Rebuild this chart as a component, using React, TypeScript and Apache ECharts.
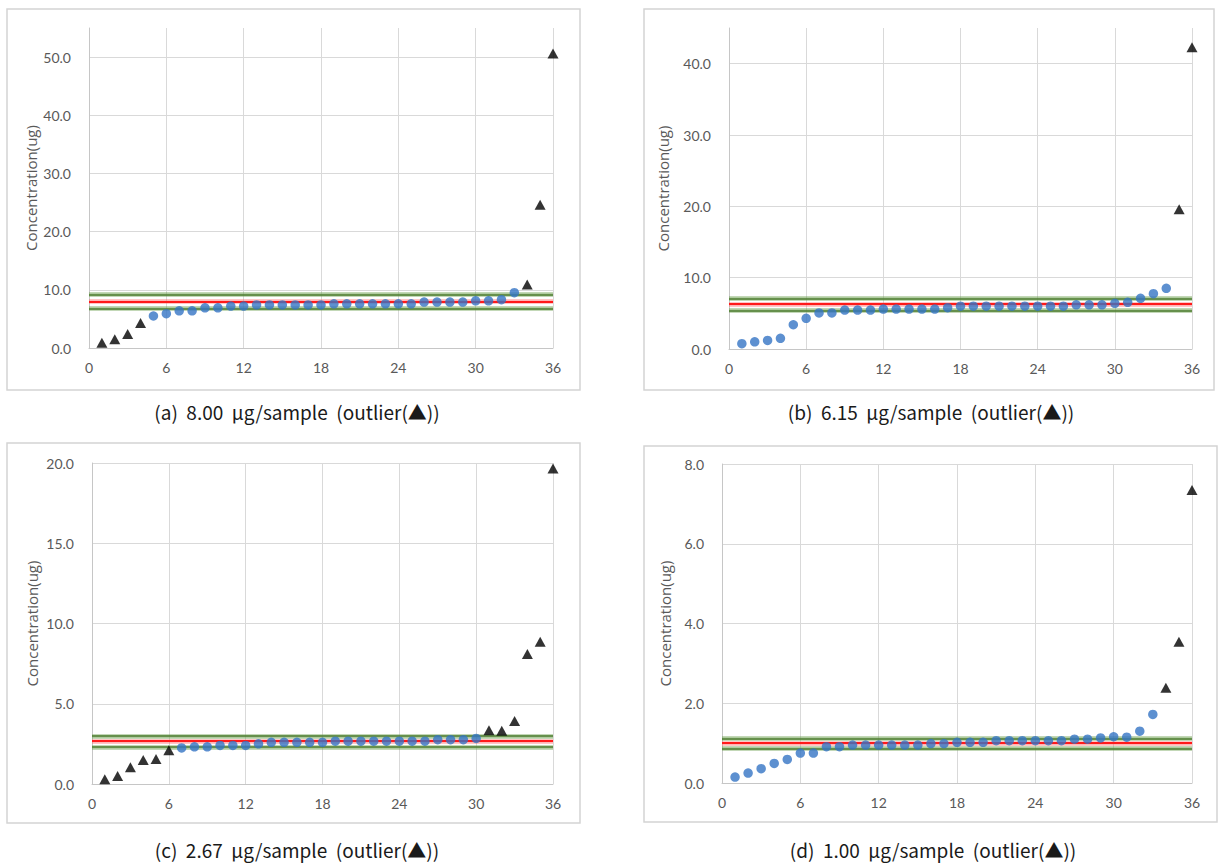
import React, { useEffect, useRef } from "react";
import * as echarts from "echarts";

// ---------- data ----------
const sampleNo = [1, 2, 3, 4, 5, 6, 7, 8, 9, 10, 11, 12, 13, 14, 15, 16, 17, 18, 19, 20, 21, 22, 23, 24, 25, 26, 27, 28, 29, 30, 31, 32, 33, 34, 35, 36];

const valuesA = [0.9, 1.5, 2.4, 4.3, 5.5, 5.9, 6.4, 6.4, 6.9, 6.9, 7.2, 7.2, 7.4, 7.4, 7.4, 7.4, 7.4, 7.4, 7.6, 7.6, 7.6, 7.6, 7.6, 7.6, 7.6, 7.9, 7.9, 7.9, 7.9, 8.1, 8.1, 8.3, 9.5, 10.9, 24.6, 50.6];
const valuesB = [0.75, 1.0, 1.2, 1.5, 3.4, 4.3, 5.05, 5.05, 5.45, 5.45, 5.45, 5.6, 5.6, 5.6, 5.6, 5.6, 5.8, 6.0, 6.0, 6.0, 6.0, 6.0, 6.0, 6.0, 6.0, 6.0, 6.2, 6.2, 6.2, 6.4, 6.55, 7.1, 7.75, 8.5, 19.6, 42.3];
const valuesC = [0.3, 0.5, 1.05, 1.5, 1.55, 2.1, 2.25, 2.32, 2.32, 2.4, 2.4, 2.4, 2.5, 2.6, 2.6, 2.6, 2.6, 2.6, 2.67, 2.67, 2.67, 2.67, 2.67, 2.67, 2.67, 2.67, 2.76, 2.76, 2.76, 2.84, 3.35, 3.32, 3.92, 8.1, 8.87, 19.65];
const valuesD = [0.15, 0.25, 0.36, 0.49, 0.59, 0.75, 0.75, 0.91, 0.91, 0.95, 0.95, 0.95, 0.95, 0.95, 0.95, 0.99, 0.99, 1.02, 1.02, 1.02, 1.06, 1.06, 1.06, 1.06, 1.06, 1.06, 1.1, 1.1, 1.13, 1.16, 1.15, 1.3, 1.72, 2.39, 3.54, 7.35];

const outliersA = [1, 2, 3, 4, 34, 35, 36];
const outliersB = [35, 36];
const outliersC = [1, 2, 3, 4, 5, 6, 31, 32, 33, 34, 35, 36];
const outliersD = [34, 35, 36];

// reference levels: [lower, centre, upper]
const refA = [6.8, 8.0, 9.2];
const refB = [5.4, 6.3, 7.1];
const refC = [2.3, 2.67, 3.0];
const refD = [0.87, 1.0, 1.12];

const yMaxes = [55, 45, 20, 8];
const yIntervals = [10, 10, 5, 2];
const xMax = 36;
const xInterval = 6;

const captions = [
  "(a)  8.00  μg/sample  (outlier(▲))",
  "(b)  6.15  μg/sample  (outlier(▲))",
  "(c)  2.67  μg/sample  (outlier(▲))",
  "(d)  1.00  μg/sample  (outlier(▲))",
];
const yAxisName = "Concentration(ug)";

const panelsData = [
  { values: valuesA, outliers: outliersA, refs: refA },
  { values: valuesB, outliers: outliersB, refs: refB },
  { values: valuesC, outliers: outliersC, refs: refC },
  { values: valuesD, outliers: outliersD, refs: refD },
];

// ---------- layout ----------
const layouts = [
  { grid: { left: 89, top: 28, width: 464, height: 320 }, frame: { x: 7, y: 9, w: 573, h: 381 }, cap: { x: 297, y: 411 }, nameGap: 51 },
  { grid: { left: 729, top: 28, width: 463, height: 321 }, frame: { x: 644, y: 9, w: 570, h: 381 }, cap: { x: 931, y: 411 }, nameGap: 59 },
  { grid: { left: 92, top: 463, width: 461, height: 321 }, frame: { x: 7, y: 443, w: 573, h: 380 }, cap: { x: 297, y: 849 }, nameGap: 53 },
  { grid: { left: 722, top: 464, width: 470, height: 319 }, frame: { x: 644, y: 446, w: 573, h: 376 }, cap: { x: 933, y: 849 }, nameGap: 50 },
];

const BLUE = "#3574c4";
const GRID = "#d9d9d9";
const AXIS = "#c6c6c6";
const LABEL = "#595959";

export default function App() {
  const ref = useRef<HTMLDivElement>(null);

  useEffect(() => {
    if (!ref.current) return;
    const chart = echarts.init(ref.current, undefined, { renderer: "svg" });

    const grids: any[] = [];
    const xAxes: any[] = [];
    const yAxes: any[] = [];
    const series: any[] = [];
    const graphics: any[] = [];

    panelsData.forEach((p, i) => {
      const L = layouts[i];
      const yMax = yMaxes[i];
      const yInt = yIntervals[i];
      const maxIsTick = Math.abs(yMax / yInt - Math.round(yMax / yInt)) < 1e-9;

      grids.push({ ...L.grid, containLabel: false });
      xAxes.push({
        type: "value",
        gridIndex: i,
        min: 0,
        max: xMax,
        interval: xInterval,
        axisLine: { show: true, onZero: false, lineStyle: { color: AXIS, width: 1 } },
        axisTick: { show: false },
        splitLine: { show: true, lineStyle: { color: GRID, width: 1 } },
        axisLabel: { color: LABEL, fontSize: 14, fontFamily: "Lato", margin: 12 },
      });
      yAxes.push({
        type: "value",
        gridIndex: i,
        min: 0,
        max: yMax,
        interval: yInt,
        axisLine: { show: true, onZero: false, lineStyle: { color: AXIS, width: 1 } },
        axisTick: { show: false },
        splitLine: { show: true, showMaxLine: maxIsTick, lineStyle: { color: GRID, width: 1 } },
        axisLabel: {
          color: LABEL,
          fontSize: 14,
          fontFamily: "Lato",
          margin: 18,
          showMaxLabel: maxIsTick,
          formatter: (v: number) => v.toFixed(1),
        },
        name: yAxisName,
        nameLocation: "middle",
        nameGap: L.nameGap,
        nameTextStyle: { color: LABEL, fontSize: 15, fontFamily: "Open Sans" },
      });

      const normal: number[][] = [];
      const outl: number[][] = [];
      sampleNo.forEach((n, k) => {
        if (p.outliers.includes(n)) outl.push([n, p.values[k]]);
        else normal.push([n, p.values[k]]);
      });

      const [lo, mid, hi] = p.refs;
      series.push({
        type: "scatter",
        xAxisIndex: i,
        yAxisIndex: i,
        data: [],
        silent: true,
        z: 1,
        markLine: {
          silent: true,
          symbol: "none",
          z: 1,
          label: { show: false },
          data: [
            { yAxis: hi, lineStyle: { color: "rgba(110,160,80,0.55)", width: 4.5, type: "solid" } },
            { yAxis: lo, lineStyle: { color: "rgba(110,160,80,0.55)", width: 4.5, type: "solid" } },
            { yAxis: mid, lineStyle: { color: "rgba(255,90,90,0.45)", width: 4.5, type: "solid" } },
            { yAxis: hi, lineStyle: { color: "#4e7d30", width: 1.6, type: "solid" } },
            { yAxis: lo, lineStyle: { color: "#4e7d30", width: 1.6, type: "solid" } },
            { yAxis: mid, lineStyle: { color: "#ff1a1a", width: 2, type: "solid" } },
          ],
        },
      });
      series.push({
        type: "scatter",
        xAxisIndex: i,
        yAxisIndex: i,
        data: normal,
        symbol: "circle",
        symbolSize: 9.5,
        itemStyle: { color: BLUE },
        z: 3,
      });
      series.push({
        type: "scatter",
        xAxisIndex: i,
        yAxisIndex: i,
        data: outl,
        symbol: "triangle",
        symbolSize: [11, 10],
        itemStyle: { color: "#000000" },
        z: 4,
      });

      graphics.push({
        type: "rect",
        shape: { x: L.frame.x, y: L.frame.y, width: L.frame.w, height: L.frame.h },
        style: { fill: "none", stroke: "#d4d4d4", lineWidth: 1.5 },
        z: -1,
        silent: true,
      });
      graphics.push({
        type: "text",
        x: L.cap.x,
        y: L.cap.y,
        style: {
          text: captions[i],
          fill: "#1a1a1a",
          fontSize: 19,
          fontFamily: "Noto Sans CJK KR",
          align: "center",
          verticalAlign: "middle",
        },
        silent: true,
      });
    });

    chart.setOption({
      animation: false,
      backgroundColor: "#ffffff",
      grid: grids,
      xAxis: xAxes,
      yAxis: yAxes,
      series,
      graphic: graphics,
    });

    return () => chart.dispose();
  }, []);

  return (
    <div
      ref={ref}
      style={{ position: "absolute", left: 0, top: 0, width: 1219, height: 867 }}
    />
  );
}
